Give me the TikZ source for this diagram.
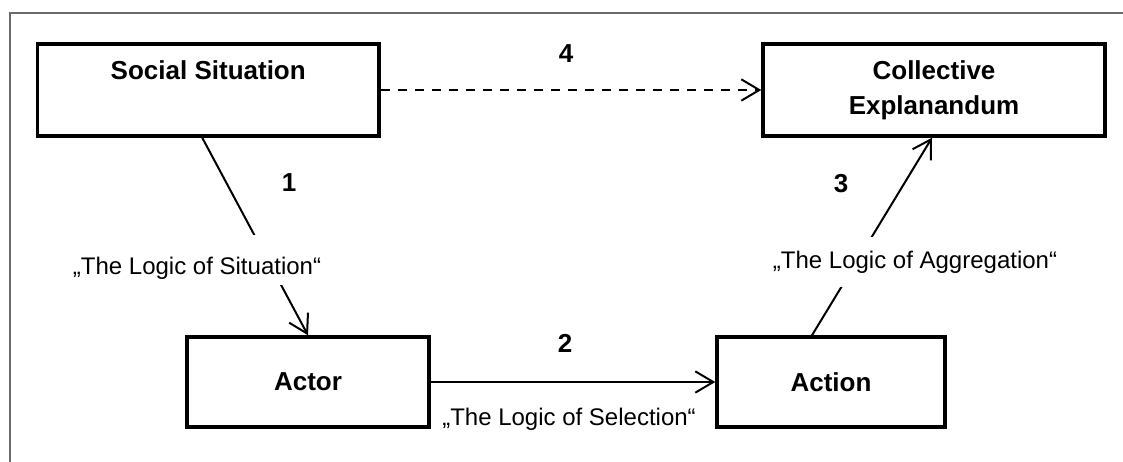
\documentclass[tikz,border=0pt]{standalone}
\usepackage{fontspec}
\setmainfont{Liberation Sans}
\usetikzlibrary{arrows.meta,calc}
\definecolor{framegray}{gray}{0.42}
\begin{document}
\begin{tikzpicture}[x=0.75pt,y=-0.75pt,
  stage/.style={draw=black, line width=2.6pt, inner sep=0pt, align=center,
    font=\bfseries\fontsize{19.5pt}{26.25pt}\selectfont},
  conn/.style={line width=1.5pt,
    -{Straight Barb[length=13.5pt,width=16pt,line width=1.5pt]}},
  num/.style={font=\bfseries\fontsize{19.5pt}{23pt}\selectfont, inner sep=0pt},
  logic/.style={font=\fontsize{18pt}{21.6pt}\selectfont, inner xsep=3pt},
  frameline/.style={draw=framegray, line width=1.3pt}]

\useasboundingbox (0,0) rectangle (1123,461);
\clip (0,0) rectangle (1123,461);
\draw[frameline] (10,13) rectangle (1160,500);

% the four stages of the model
\node[stage, minimum width=256.1pt, minimum height=69pt] (ss) at (208.25,90)
  {Social Situation\\\phantom{Explanandum}};
\node[stage, minimum width=256.5pt, minimum height=69pt] (ce) at (934,90)
  {Collective\\Explanandum};
\node[stage, minimum width=181.5pt, minimum height=67.5pt] (actor) at (308,382)
  {Actor};
\node[stage, minimum width=171pt, minimum height=67.5pt] (action) at (831,382)
  {Action};

% connectors
\draw[conn] ([xshift=-4.5pt]ss.south) -- (actor.north);
\draw[conn] (actor.east) -- (action.west);
\draw[conn] ([xshift=-14.25pt]action.north) -- ([xshift=-1.5pt]ce.south);
\draw[conn, dash pattern=on 6.75pt off 6pt] (ss.east) -- (ce.west);

% labels of the mechanisms
\node[logic, fill=white, anchor=base, text height=29.25pt, text depth=8.25pt,
  inner ysep=0pt] (lsit) at (197,274) {„The Logic of Situation“};
\node[logic, fill=white, anchor=base, text height=23.25pt, text depth=14.25pt,
  inner ysep=0pt] (lagg) at (915,268) {„The Logic of Aggregation“};
\node[logic, anchor=base] (lsel) at (569,425) {„The Logic of Selection“};

% step numbers
\node[num] (n1) at (289,183) {1};
\node[num] (n2) at (565,343) {2};
\node[num] (n3) at (841,184) {3};
\node[num] (n4) at (566,54) {4};
\end{tikzpicture}
\end{document}
